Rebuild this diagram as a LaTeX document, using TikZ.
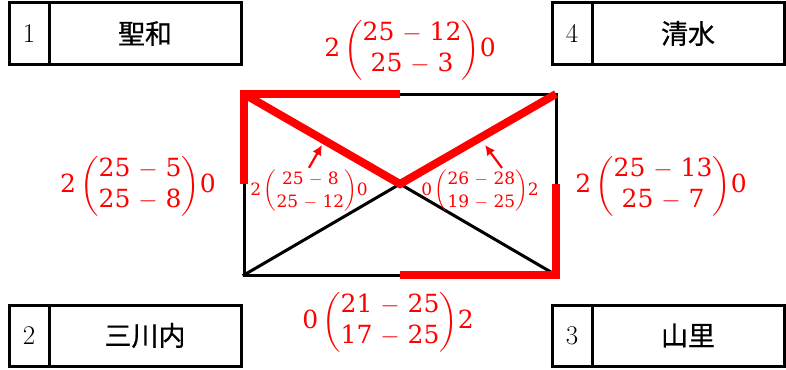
\documentclass[tikz,border=0pt]{standalone}
\usepackage{fontspec}
\usepackage{amsmath}
\usepackage{tikz}
\newfontfamily\jpfont[FakeBold=0.6]{Noto Sans CJK JP}
\newfontfamily\scorefont{DejaVu Serif}
\usetikzlibrary{arrows.meta,positioning}
\definecolor{TallyRed}{HTML}{FF0000}
\tikzset{
  rankcell/.style={draw=black, line width=3pt, minimum width=40pt, minimum height=61pt,
    inner sep=0pt, outer sep=0pt, font=\fontsize{27}{30}\selectfont},
  namecell/.style={draw=black, line width=3pt, minimum width=192pt, minimum height=61pt,
    inner sep=0pt, outer sep=0pt, font=\jpfont\fontsize{27}{30}\selectfont},
  plain/.style={draw=black, line width=3pt, line cap=rect},
  won/.style={draw=TallyRed, line width=8pt, line join=miter},
  bigscore/.style={text=TallyRed, inner sep=0pt, font=\scorefont\fontsize{25}{31}\selectfont},
  smallscore/.style={text=TallyRed, inner sep=0pt, font=\scorefont\fontsize{17}{23}\selectfont},
  pointer/.style={-{Latex[length=10pt,width=10pt]}, draw=TallyRed, line width=2.2pt}
}
\newcommand{\scorepair}[4]{#1\,$\biggl(\vcenter{\hbox{\begin{tabular}{@{}c@{}}#2\\#3\end{tabular}}}\biggr)$#4}
\newcommand{\mn}{ $-$ }

\begin{document}
\begin{tikzpicture}[x=1pt,y=-1pt]
  \useasboundingbox (0,0) rectangle (786,369);
  % teams
  \node[rankcell] (r1) at (29,33.5) {1};
  \node[namecell, right=0pt of r1] (t1) {聖和};
  \node[rankcell] (r2) at (29,335.5) {2};
  \node[namecell, right=0pt of r2] (t2) {三川内};
  \node[rankcell] (r3) at (572,335.5) {3};
  \node[namecell, right=0pt of r3] (t3) {山里};
  \node[rankcell] (r4) at (572,33.5) {4};
  \node[namecell, right=0pt of r4] (t4) {清水};
  % court
  \coordinate (tl) at (244,94);
  \coordinate (tm) at (400,94);
  \coordinate (tr) at (556,94);
  \coordinate (lm) at (244,184);
  \coordinate (c) at (400,184);
  \coordinate (rm) at (556,184);
  \coordinate (bl) at (244,275);
  \coordinate (bm) at (400,275);
  \coordinate (br) at (556,275);
  \draw[plain] (tm) -- (tr) -- (rm);
  \draw[plain] (lm) -- (bl) -- (bm);
  \draw[plain] (bl) -- (c) -- (br);
  \draw[won] (tm) -- (tl) -- (lm);
  \draw[won] (tl) -- (c) -- (tr);
  \draw[won] (rm) -- (br) -- (bm);
  % scores
  \node[bigscore] (sTop) at (410,50) {\scorepair{2}{25\mn12}{25\mn3}{0}};
  \node[bigscore] (sLeft) at (138,186) {\scorepair{2}{25\mn5}{25\mn8}{0}};
  \node[bigscore] (sRight) at (661,186) {\scorepair{2}{25\mn13}{25\mn7}{0}};
  \node[bigscore] (sBottom) at (388,322) {\scorepair{0}{21\mn25}{17\mn25}{2}};
  \node[smallscore] (sInL) at (309,191) {\scorepair{2}{25\mn8}{25\mn12}{0}};
  \node[smallscore] (sInR) at (480,191) {\scorepair{0}{26\mn28}{19\mn25}{2}};
  \coordinate (tipL) at (322,145);
  \coordinate (tailR) at (502,168);
  \coordinate (tipR) at (485,145);
  \draw[pointer] (sInL.north) -- (tipL);
  \draw[pointer] (tailR) -- (tipR);
\end{tikzpicture}
\end{document}
